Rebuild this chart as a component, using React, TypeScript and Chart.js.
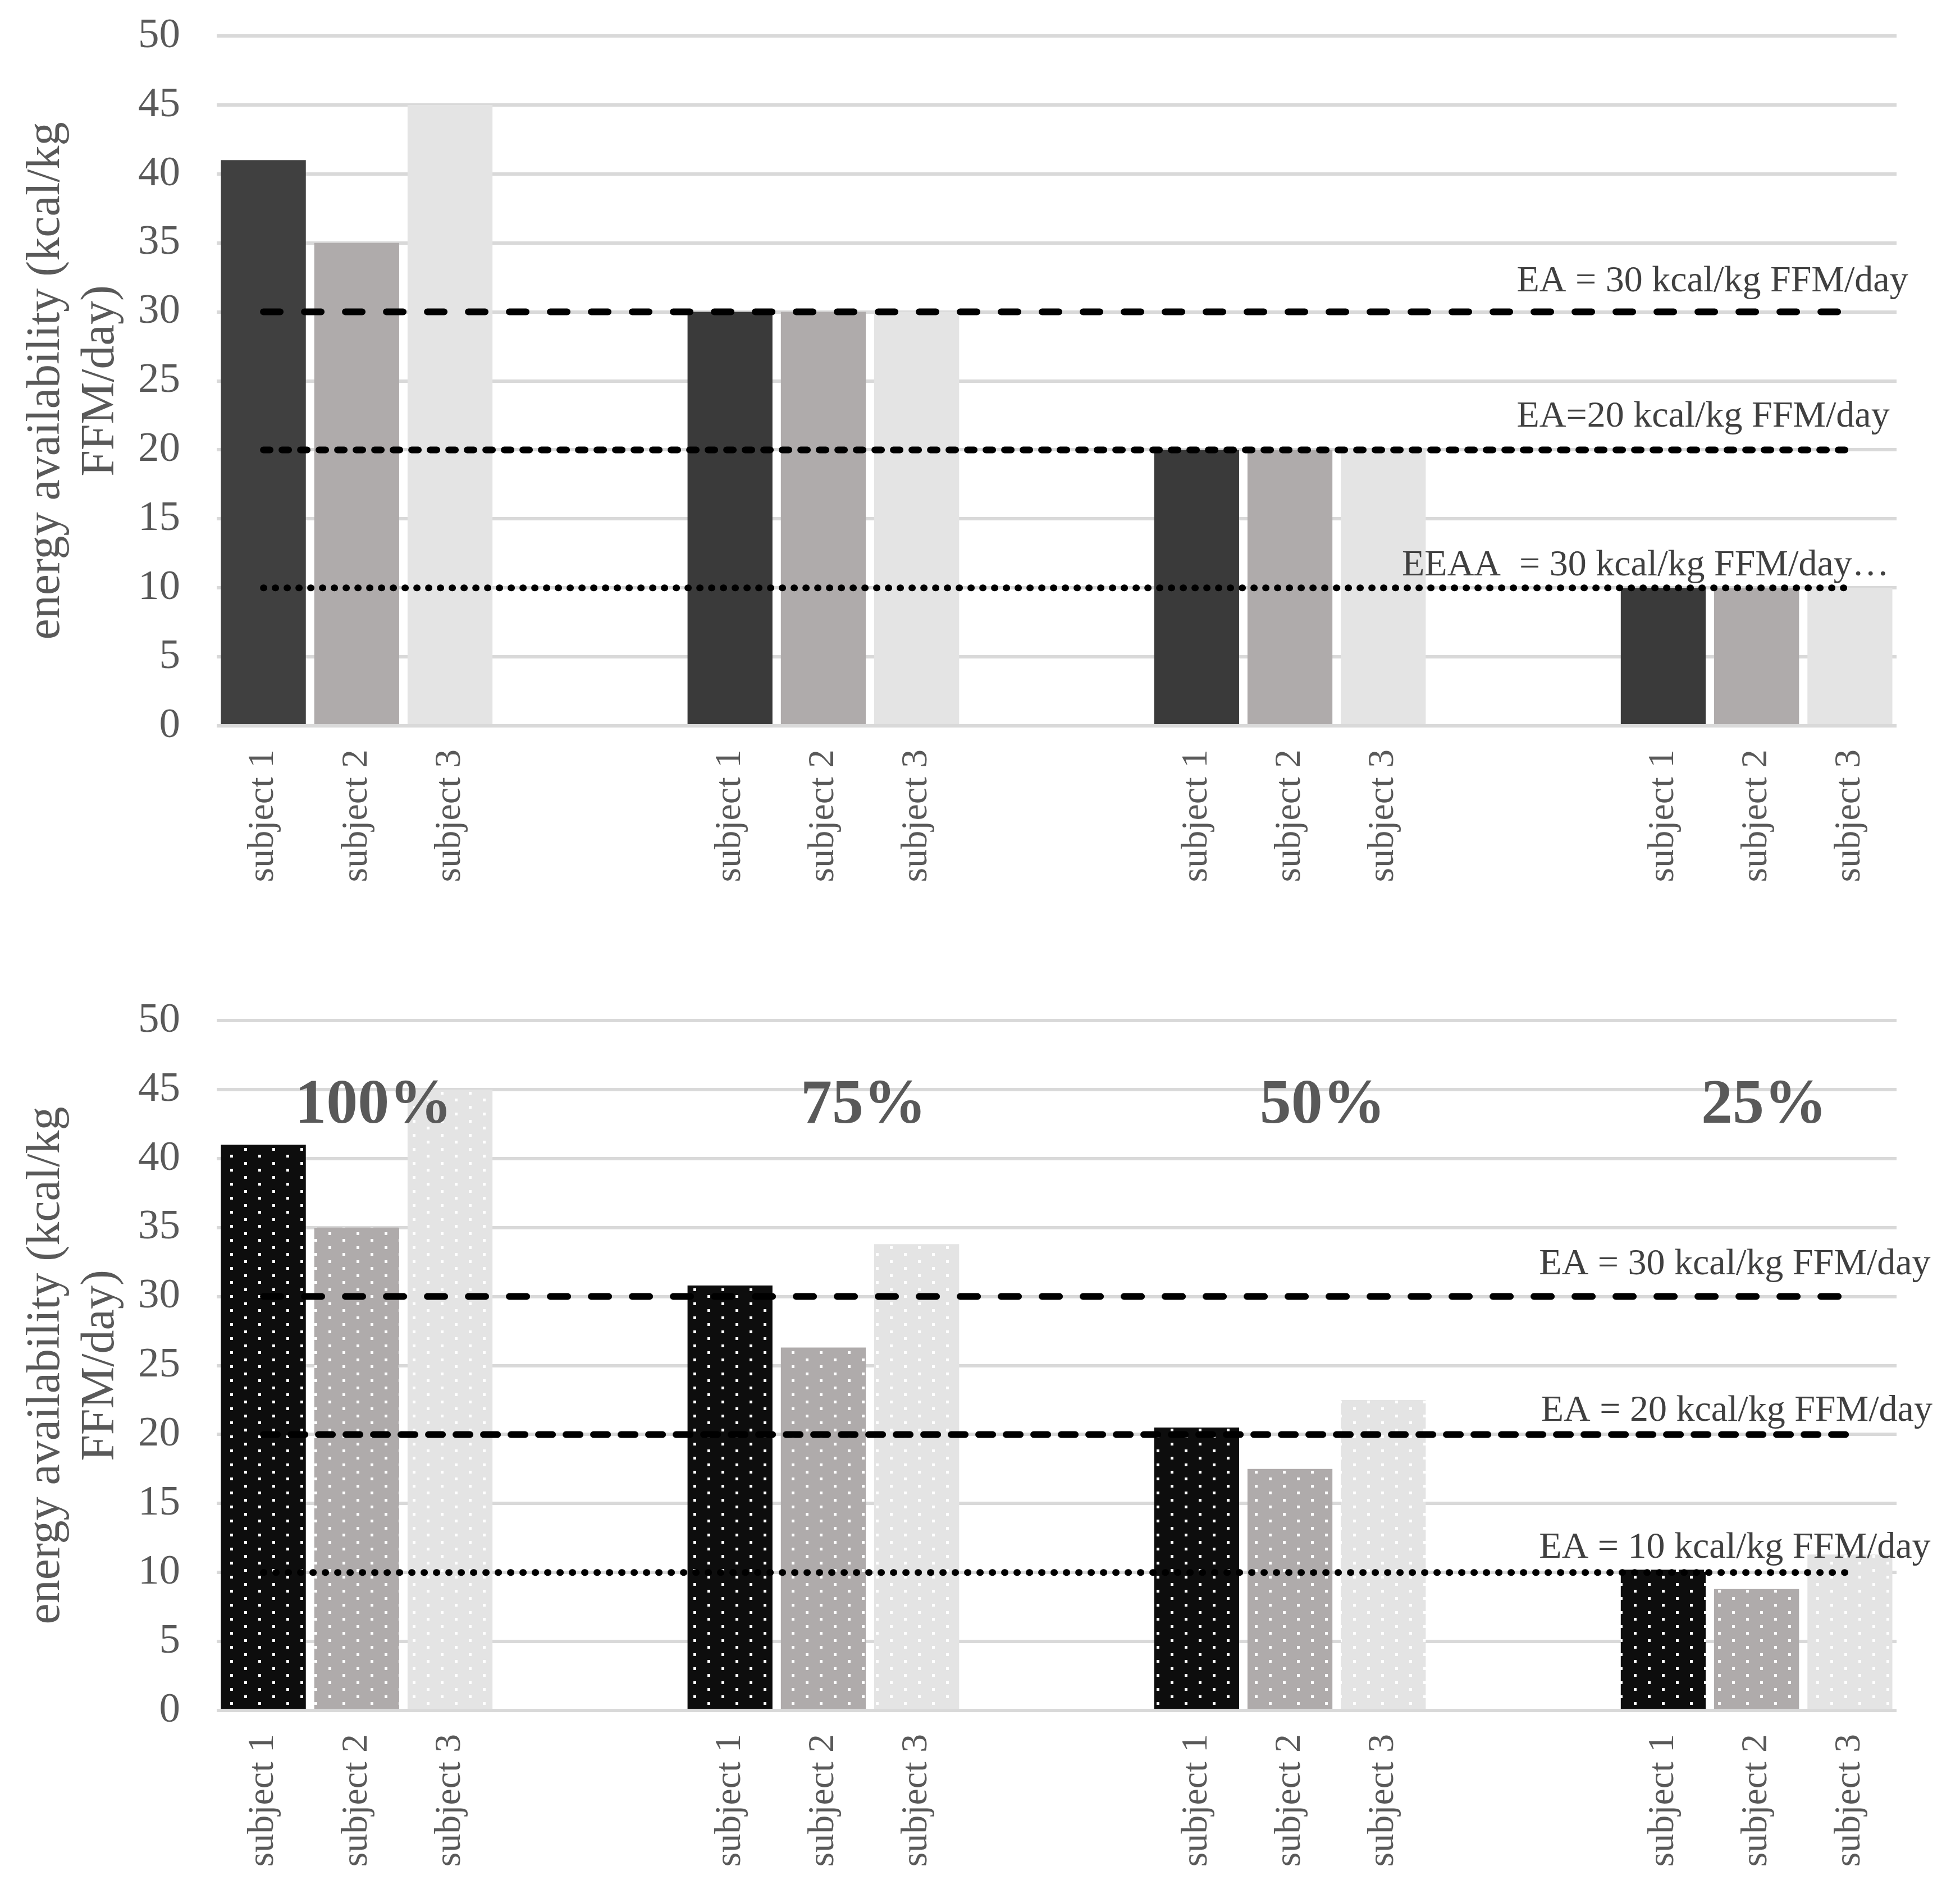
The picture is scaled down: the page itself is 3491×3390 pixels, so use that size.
import { useEffect, useRef } from 'react';
import Chart from 'chart.js/auto';

// 18 category slots: 4 groups of 3 subjects, separated by 2 empty slots
const CATEGORIES = [
  'subject 1', 'subject 2', 'subject 3', '', '',
  'subject 1', 'subject 2', 'subject 3', '', '',
  'subject 1', 'subject 2', 'subject 3', '', '',
  'subject 1', 'subject 2', 'subject 3',
];

// top panel: prescribed energy availability
const PLANNED_EA = [41, 35, 45, null, null, 30, 30, 30, null, null, 20, 20, 20, null, null, 10, 10, 10];

// bottom panel: achieved energy availability
const ACHIEVED_EA = [41, 35, 45, null, null, 30.8, 26.3, 33.8, null, null, 20.5, 17.5, 22.5, null, null, 10.2, 8.8, 11.3];

// reference lines
const EA_30 = [30, 30, 30, 30, 30, 30, 30, 30, 30, 30, 30, 30, 30, 30, 30, 30, 30, 30];
const EA_20 = [20, 20, 20, 20, 20, 20, 20, 20, 20, 20, 20, 20, 20, 20, 20, 20, 20, 20];
const EA_10 = [10, 10, 10, 10, 10, 10, 10, 10, 10, 10, 10, 10, 10, 10, 10, 10, 10, 10];

const Y_MIN = 0;
const Y_MAX = 50;
const Y_STEP = 5;

const Y_TITLE = ['energy availability (kcal/kg', 'FFM/day)'];
const PHASES = ['100%', '75%', '50%', '25%'];

const SERIF = "'Liberation Serif', 'Times New Roman', serif";
const AXIS_GREY = '#595959';
const LABEL_GREY = '#404040';

type Note = { text: string; x: number; y: number; align: CanvasTextAlign; size: number; bold?: boolean; color: string };

const TOP_NOTES: Note[] = [
  { text: 'EA = 30 kcal/kg FFM/day', x: 13.43, y: 31.5, align: 'left', size: 66, color: LABEL_GREY },
  { text: 'EA=20 kcal/kg FFM/day', x: 13.43, y: 21.7, align: 'left', size: 66, color: LABEL_GREY },
  { text: 'EEAA  = 30 kcal/kg FFM/day\u2026', x: 12.2, y: 10.9, align: 'left', size: 66, color: LABEL_GREY },
];

const BOTTOM_NOTES: Note[] = [
  { text: 'EA = 30 kcal/kg FFM/day', x: 13.67, y: 31.6, align: 'left', size: 66, color: LABEL_GREY },
  { text: 'EA = 20 kcal/kg FFM/day', x: 13.69, y: 21.0, align: 'left', size: 66, color: LABEL_GREY },
  { text: 'EA = 10 kcal/kg FFM/day', x: 13.67, y: 11.07, align: 'left', size: 66, color: LABEL_GREY },
  { text: PHASES[0], x: 1.18, y: 42.6, align: 'center', size: 112, bold: true, color: AXIS_GREY },
  { text: PHASES[1], x: 6.43, y: 42.6, align: 'center', size: 112, bold: true, color: AXIS_GREY },
  { text: PHASES[2], x: 11.35, y: 42.6, align: 'center', size: 112, bold: true, color: AXIS_GREY },
  { text: PHASES[3], x: 16.08, y: 42.6, align: 'center', size: 112, bold: true, color: AXIS_GREY },
];

const TOP_COLORS = ['#404040', '#afabab', '#e4e4e4'];
const TOP_COLORS_LATER = ['#3a3a3a', '#afabab', '#e4e4e4'];
const BOTTOM_COLORS = ['#0d0d0d', '#afabab', '#e4e4e4'];

function dotPattern(bg: string): CanvasPattern | string {
  const tile = document.createElement('canvas');
  tile.width = 50;
  tile.height = 25;
  const ctx = tile.getContext('2d');
  if (!ctx) return bg;
  ctx.fillStyle = bg;
  ctx.fillRect(0, 0, 50, 25);
  ctx.fillStyle = '#ffffff';
  ctx.fillRect(10, 3, 5, 5);
  ctx.fillRect(35, 16, 5, 5);
  return ctx.createPattern(tile, 'repeat') ?? bg;
}

const notesPlugin = {
  id: 'notes',
  afterDatasetsDraw(chart: any) {
    const notes: Note[] = chart.options.plugins.notes?.items ?? [];
    const { ctx } = chart;
    const xs = chart.scales.x;
    const ys = chart.scales.y;
    ctx.save();
    for (const n of notes) {
      ctx.font = `${n.bold ? 'bold ' : ''}${n.size}px ${SERIF}`;
      ctx.fillStyle = n.color;
      ctx.textAlign = n.align;
      ctx.textBaseline = 'alphabetic';
      ctx.fillText(n.text, xs.getPixelForValue(n.x), ys.getPixelForValue(n.y));
    }
    ctx.restore();
  },
};

function refLine(data: number[], dash: number[]) {
  return {
    type: 'line' as const,
    data,
    borderColor: '#000000',
    borderWidth: 12,
    borderDash: dash,
    borderCapStyle: 'round' as const,
    pointRadius: 0,
    fill: false,
    order: 0,
  };
}

function EAPanel({
  values,
  patterned,
  notes,
  height,
  dashes,
}: {
  values: (number | null)[];
  patterned: boolean;
  notes: Note[];
  height: number;
  dashes: number[][];
}) {
  const canvasRef = useRef<HTMLCanvasElement | null>(null);

  useEffect(() => {
    const canvas = canvasRef.current;
    if (!canvas) return;

    const colors = CATEGORIES.map((_, i) => {
      const group = Math.floor(i / 5);
      const slot = i % 5;
      if (slot > 2) return 'rgba(0,0,0,0)';
      if (patterned) return dotPattern(BOTTOM_COLORS[slot]);
      return group === 0 ? TOP_COLORS[slot] : TOP_COLORS_LATER[slot];
    });

    const chart = new Chart(canvas, {
      type: 'bar',
      data: {
        labels: CATEGORIES,
        datasets: [
          refLine(EA_30, dashes[0]),
          refLine(EA_20, dashes[1]),
          refLine(EA_10, dashes[2]),
          {
            type: 'bar',
            data: values,
            backgroundColor: colors,
            borderWidth: 0,
            categoryPercentage: 0.91,
            barPercentage: 1,
            order: 1,
          },
        ] as any,
      },
      options: {
        animation: false,
        responsive: true,
        maintainAspectRatio: false,
        devicePixelRatio: 1,
        layout: { padding: { top: 64, right: 113, left: 0, bottom: 0 } },
        plugins: {
          legend: { display: false },
          tooltip: { enabled: false },
          notes: { items: notes },
        } as any,
        scales: {
          x: {
            grid: { display: false, drawTicks: false },
            border: { display: false },
            ticks: {
              autoSkip: false,
              maxRotation: 90,
              minRotation: 90,
              padding: 42,
              color: AXIS_GREY,
              font: { family: SERIF, size: 66 },
            },
            afterFit: (s: any) => {
              s.height = height - 1293;
            },
          },
          y: {
            min: Y_MIN,
            max: Y_MAX,
            ticks: {
              stepSize: Y_STEP,
              padding: 65,
              color: AXIS_GREY,
              font: { family: SERIF, size: 75 },
            },
            grid: { color: '#d9d9d9', lineWidth: 6, drawTicks: false },
            border: { display: false },
            title: {
              display: true,
              text: Y_TITLE,
              color: AXIS_GREY,
              font: { family: SERIF, size: 84, lineHeight: 1.15 },
              padding: { top: 35, bottom: 0 },
            },
            afterFit: (s: any) => {
              s.width = 386;
              // tick padding would otherwise push the plot area down
              s.paddingTop = 0;
              s.paddingBottom = 0;
            },
          },
        },
      },
      plugins: [notesPlugin],
    });

    return () => {
      chart.destroy();
    };
  }, [values, patterned, notes, height, dashes]);

  return (
    <div style={{ position: 'relative', width: 3491, height }}>
      <canvas ref={canvasRef} />
    </div>
  );
}

const TOP_DASHES = [[30, 43], [12, 21], [1, 20]];
const BOTTOM_DASHES = [[31, 42], [25, 24], [1, 21]];

export default function App() {
  return (
    <div style={{ position: 'absolute', left: 0, top: 0, width: 3491, background: '#ffffff' }}>
      <EAPanel values={PLANNED_EA} patterned={false} notes={TOP_NOTES} height={1754} dashes={TOP_DASHES} />
      <EAPanel values={ACHIEVED_EA} patterned={true} notes={BOTTOM_NOTES} height={1636} dashes={BOTTOM_DASHES} />
    </div>
  );
}
